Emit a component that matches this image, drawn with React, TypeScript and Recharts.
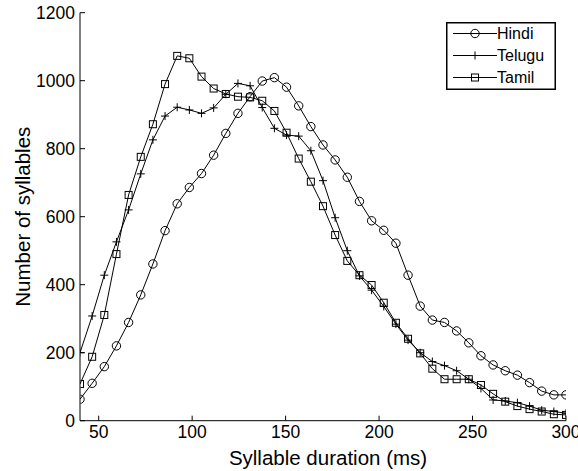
import React from 'react';
import { LineChart, Line, XAxis, YAxis, Legend } from 'recharts';

// syllable duration bins (ms)
const durations = [
  40, 46.5, 53, 59.5, 66, 72.5, 79, 85.5, 92, 98.5, 105, 111.5, 118, 124.5,
  131, 137.5, 144, 150.5, 157, 163.5, 170, 176.5, 183, 189.5, 196, 202.5, 209,
  215.5, 222, 228.5, 235, 241.5, 248, 254.5, 261, 267.5, 274, 280.5, 287,
  293.5, 300,
];

const hindi = [
  63, 110, 159, 220, 289, 370, 461, 559, 638, 686, 727, 781, 845, 904, 953,
  999, 1009, 981, 926, 865, 811, 767, 716, 645, 588, 560, 522, 428, 337, 296,
  289, 264, 229, 191, 164, 147, 134, 112, 87, 76, 76,
];

const telugu = [
  200, 308, 428, 526, 620, 726, 826, 896, 922, 914, 904, 920, 960, 992, 985,
  921, 860, 840, 837, 794, 706, 597, 500, 426, 384, 336, 284, 237, 200, 174,
  162, 147, 122, 95, 61, 58, 53, 43, 31, 27, 22,
];

const tamil = [
  108, 188, 311, 490, 664, 776, 872, 990, 1073, 1066, 1012, 977, 961, 953,
  951, 941, 911, 847, 771, 703, 631, 546, 470, 428, 399, 347, 288, 241, 198,
  153, 122, 122, 122, 105, 79, 56, 43, 34, 27, 19, 17,
];

const xTicks = [50, 100, 150, 200, 250, 300];
const yTicks = [0, 200, 400, 600, 800, 1000, 1200];
const xDomain = [40, 300];

const data = durations.map((d, i) => ({
  duration: d,
  Hindi: hindi[i],
  Telugu: telugu[i],
  Tamil: tamil[i],
}));

const FONT = '"Liberation Sans", Arial, Helvetica, sans-serif';

// marker shapes, matlab style (no fill)
const CircleMark = ({ cx, cy }: any) => (
  <circle cx={cx} cy={cy} r={4.2} fill="none" stroke="#000" strokeWidth={1} />
);

const PlusMark = ({ cx, cy }: any) => (
  <path d={`M${cx - 4},${cy}H${cx + 4}M${cx},${cy - 4}V${cy + 4}`} stroke="#000" strokeWidth={1} fill="none" />
);

const SquareMark = ({ cx, cy }: any) => (
  <rect x={cx - 3.5} y={cy - 3.5} width={7} height={7} fill="none" stroke="#000" strokeWidth={1} />
);

const series = [
  { key: 'Hindi', Mark: CircleMark },
  { key: 'Telugu', Mark: PlusMark },
  { key: 'Tamil', Mark: SquareMark },
];

// draws a marker; the one sitting on the left axis edge gets cut in half like matlab does
const makeDot = (name: string, Mark: any) => (p: any) => {
  const { cx, cy, index } = p;
  const k = `${name}-${index}`;
  if (cx == null || cy == null) return <g key={k} />;
  if (index === 0) {
    const id = `edge-${name}`;
    return (
      <g key={k}>
        <defs>
          <clipPath id={id}>
            <rect x={cx + 0.5} y={cy - 10} width={10} height={20} />
          </clipPath>
        </defs>
        <g clipPath={`url(#${id})`}>
          <Mark cx={cx} cy={cy} />
        </g>
      </g>
    );
  }
  return (
    <g key={k}>
      <Mark cx={cx} cy={cy} />
    </g>
  );
};

const LegendBox = () => (
  <svg width={110} height={68} style={{ display: 'block' }}>
    <rect x={0.75} y={0.75} width={108.5} height={66.5} fill="#fff" stroke="#000" strokeWidth={1.5} />
    {series.map((s, i) => {
      const y = 11.5 + i * 22;
      return (
        <g key={s.key}>
          <line x1={7} x2={51} y1={y} y2={y} stroke="#000" strokeWidth={1} />
          <s.Mark cx={29} cy={y} />
          <text x={51} y={y + 5.5} fontFamily={FONT} fontSize={16} fill="#000">
            {s.key}
          </text>
        </g>
      );
    })}
  </svg>
);

const tickStyle = { fill: '#000', fontSize: 17.5, fontFamily: FONT };

export default function App() {
  return (
    <div style={{ position: 'absolute', left: 0, top: 0, background: '#fff' }}>
      <LineChart width={578} height={471} data={data} margin={{ top: 12.7, right: 12, bottom: 0, left: 0 }}>
        <XAxis
          dataKey="duration"
          type="number"
          domain={xDomain}
          ticks={xTicks}
          interval={0}
          allowDataOverflow
          height={50.3}
          tickSize={-5}
          tickMargin={10}
          tick={tickStyle}
          axisLine={{ stroke: '#000' }}
          tickLine={{ stroke: '#000' }}
          label={{
            value: 'Syllable duration (ms)',
            position: 'insideBottom',
            offset: 6,
            dx: 5,
            style: { fill: '#000', fontSize: 20.5, fontFamily: FONT },
          }}
        />
        <XAxis
          xAxisId="top"
          orientation="top"
          dataKey="duration"
          type="number"
          domain={xDomain}
          ticks={xTicks}
          interval={0}
          height={0}
          tickSize={-5}
          tickFormatter={() => ''}
          axisLine={{ stroke: '#000' }}
          tickLine={{ stroke: '#000' }}
        />
        <YAxis
          type="number"
          domain={[0, 1200]}
          ticks={yTicks}
          interval={0}
          width={80}
          tickSize={-5}
          tickMargin={10}
          tick={tickStyle}
          axisLine={{ stroke: '#000' }}
          tickLine={{ stroke: '#000' }}
          label={{
            value: 'Number of syllables',
            angle: -90,
            position: 'insideLeft',
            offset: 23,
            style: { fill: '#000', fontSize: 20.5, fontFamily: FONT, textAnchor: 'middle' },
          }}
        />
        <YAxis
          yAxisId="right"
          orientation="right"
          type="number"
          domain={[0, 1200]}
          ticks={yTicks}
          interval={0}
          width={0}
          tickSize={-5}
          tickFormatter={() => ''}
          axisLine={{ stroke: '#000' }}
          tickLine={{ stroke: '#000' }}
        />
        <Legend
          layout="vertical"
          align="center"
          verticalAlign="middle"
          content={() => <LegendBox />}
          wrapperStyle={{ left: 446, top: 22, width: 110, height: 68 }}
        />
        {series.map((s) => (
          <Line
            key={s.key}
            dataKey={s.key}
            type="linear"
            stroke="#000"
            strokeWidth={1}
            dot={makeDot(s.key, s.Mark)}
            activeDot={false}
            isAnimationActive={false}
          />
        ))}
      </LineChart>
    </div>
  );
}
